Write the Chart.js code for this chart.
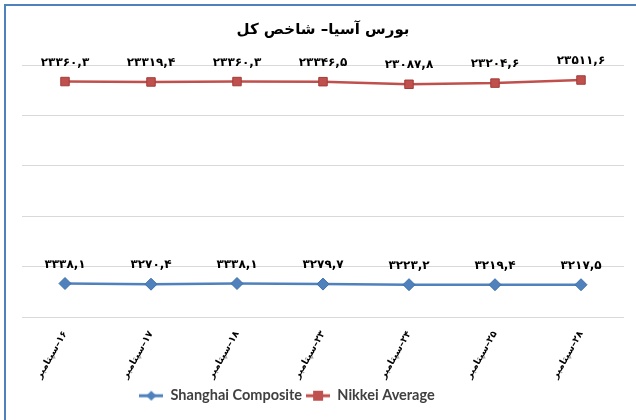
<!DOCTYPE html>
<html>
<head>
<meta charset="utf-8">
<script src="https://cdn.jsdelivr.net/npm/chart.js@4.4.1/dist/chart.umd.min.js"></script>
<style>
  html, body { margin: 0; padding: 0; background: #fff; }
  #frame { position: absolute; left: 4px; top: 4px; width: 640px; height: 420px;
           border-left: 2px solid #4f81bd; border-top: 2px solid #4f81bd; }
  #wrap { position: absolute; left: 0; top: 0; width: 636px; height: 420px; }
</style>
</head>
<body>
<div id="frame"></div>
<div id="wrap"><canvas id="chart" width="636" height="420"></canvas></div>
<script>
// chart data
const titleText = 'بورس آسیا– شاخص کل';
const days = ['۱۶', '۱۷', '۱۸', '۲۳', '۲۴', '۲۵', '۲۸'];
const monthName = 'سپتامبر';
const shanghai = [3338.1, 3270.4, 3338.1, 3279.7, 3223.2, 3219.4, 3217.5];
const nikkei = [23360.3, 23319.4, 23360.3, 23346.5, 23087.8, 23204.6, 23511.6];
const yMin = 0;
const yMax = 25000;
const yStep = 5000;

const faDigits = '۰۱۲۳۴۵۶۷۸۹';
// number -> persian digits, comma as decimal mark
function toFa(v) {
  return v.toFixed(1).replace('.', ',').replace(/[0-9]/g, d => faDigits[d]);
}

// RLM in front so the day number sits on the right
const labels = days.map(d => '\u200F' + d + '\u2013' + monthName);

const blue = '#4f81bd';
const red = '#c0504d';

// small line + marker icon for the legend
function legendIcon(color, shape) {
  const c = document.createElement('canvas');
  c.width = 24;
  c.height = 12;
  const g = c.getContext('2d');
  g.strokeStyle = color;
  g.lineWidth = 3;
  g.beginPath();
  g.moveTo(0, 6);
  g.lineTo(24, 6);
  g.stroke();
  g.fillStyle = color;
  if (shape === 'diamond') {
    g.beginPath();
    g.moveTo(12, 1);
    g.lineTo(17, 6);
    g.lineTo(12, 11);
    g.lineTo(7, 6);
    g.closePath();
    g.fill();
  } else {
    g.fillRect(7, 1, 10, 10);
  }
  return c;
}

// values written above each point
const valueLabels = {
  id: 'valueLabels',
  afterDatasetsDraw(chart) {
    const ctx = chart.ctx;
    ctx.save();
    ctx.font = 'bold 12px "DejaVu Sans"';
    ctx.fillStyle = '#000';
    ctx.textAlign = 'center';
    ctx.textBaseline = 'bottom';
    chart.data.datasets.forEach((ds, i) => {
      chart.getDatasetMeta(i).data.forEach((pt, j) => {
        ctx.fillText(toFa(ds.data[j]), pt.x, pt.y - 13);
      });
    });
    ctx.restore();
  }
};

// the legend in the original sits a bit left of centre
const legendShift = {
  id: 'legendShift',
  afterLayout(chart) {
    chart.legend.left -= 36;
    chart.legend.right -= 36;
  }
};

const ctx = document.getElementById('chart').getContext('2d');
new Chart(ctx, {
  type: 'line',
  data: {
    labels: labels,
    datasets: [
      {
        label: 'Shanghai Composite',
        data: shanghai,
        borderColor: blue,
        backgroundColor: blue,
        borderWidth: 2.5,
        pointStyle: 'rectRot',
        pointRadius: 6,
        pointBorderColor: '#3f6fa8',
        pointBorderWidth: 1,
        tension: 0,
        icon: legendIcon(blue, 'diamond'),
      },
      {
        label: 'Nikkei Average',
        data: nikkei,
        borderColor: red,
        backgroundColor: red,
        borderWidth: 2.5,
        pointStyle: 'rect',
        pointRadius: 6,
        pointBorderColor: '#a13c39',
        pointBorderWidth: 1,
        tension: 0,
        icon: legendIcon(red, 'square'),
      },
    ],
  },
  options: {
    responsive: false,
    animation: false,
    devicePixelRatio: 1,
    layout: { padding: { left: 22, right: 12, top: 12, bottom: 7 } },
    scales: {
      x: {
        offset: true,
        grid: { display: false },
        border: { display: false },
        ticks: {
          autoSkip: false,
          minRotation: 60,
          maxRotation: 60,
          padding: 4,
          color: '#000',
          font: { family: 'DejaVu Sans', weight: 'bold', size: 9.5 },
        },
      },
      y: {
        min: yMin,
        max: yMax,
        ticks: { display: false, stepSize: yStep },
        grid: { color: '#d9d9d9', drawTicks: false },
        border: { display: false },
      },
    },
    plugins: {
      tooltip: { enabled: false },
      title: {
        display: true,
        text: '\u200F' + titleText,
        color: '#000',
        font: { family: 'DejaVu Sans', weight: 'bold', size: 15 },
        padding: { top: 9, bottom: 26 },
      },
      legend: {
        position: 'bottom',
        labels: {
          usePointStyle: true,
          pointStyleWidth: 24,
          color: '#404040',
          padding: 4,
          font: { family: 'Lato', weight: 'bold', size: 14.5 },
          generateLabels(chart) {
            return chart.data.datasets.map((ds, i) => ({
              text: ds.label,
              pointStyle: ds.icon,
              fillStyle: ds.backgroundColor,
              strokeStyle: ds.borderColor,
              lineWidth: 0,
              fontColor: '#404040',
              datasetIndex: i,
              hidden: false,
            }));
          },
        },
      },
    },
  },
  plugins: [valueLabels, legendShift],
});
</script>
</body>
</html>
